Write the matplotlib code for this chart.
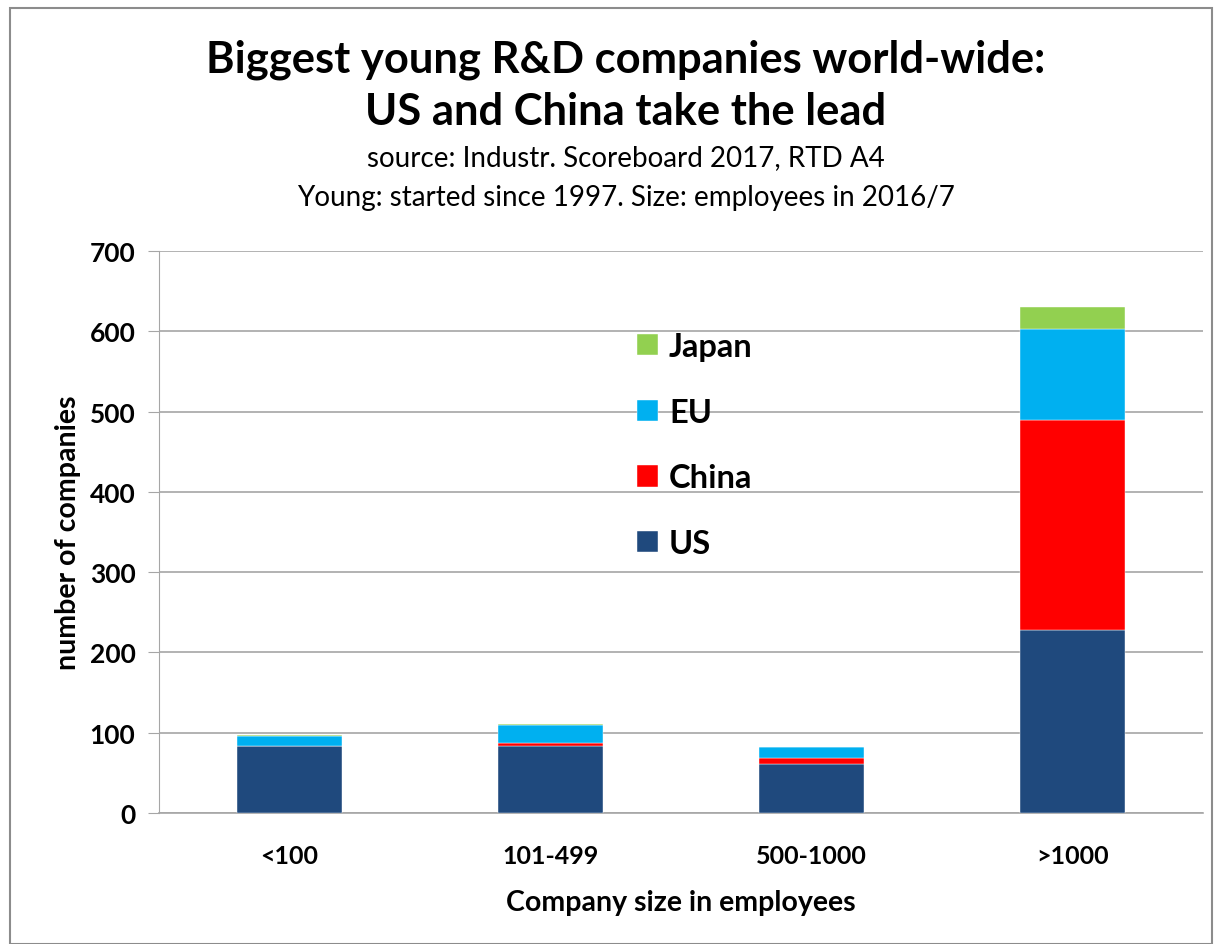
import matplotlib.pyplot as plt
from matplotlib.patches import Rectangle
import numpy as np

categories = ["<100", "101-499", "500-1000", ">1000"]
us = [83, 83, 61, 228]
china = [0, 4, 7, 261]
eu = [13, 23, 14, 114]
japan = [1, 1, 0, 27]

series = [("US", us, "#1F497D"), ("China", china, "#FF0000"),
          ("EU", eu, "#00B0F0"), ("Japan", japan, "#92D050")]

plt.rcParams["font.family"] = ["Lato", "DejaVu Sans"]

fig = plt.figure(figsize=(12.15, 9.45), dpi=100)
ax = fig.add_axes([159 / 1215, 131 / 945, 1044 / 1215, 562 / 945])

x = np.arange(len(categories))
bottom = np.zeros(len(categories))
handles = []
for name, vals, col in series:
    b = ax.bar(x, vals, 0.4, bottom=bottom, color=col, label=name,
               edgecolor="white", linewidth=0.3, zorder=3)
    handles.append(b)
    bottom += np.array(vals)

ax.set_xlim(-0.5, 3.5)
ax.set_ylim(0, 700)
ax.set_yticks(range(0, 701, 100))
ax.set_xticks(x)
ax.set_xticklabels(categories)
ax.grid(axis="y", color="#a6a6a6", linewidth=1.2, zorder=0)
for s in ["top", "right"]:
    ax.spines[s].set_visible(False)
ax.spines["left"].set_color("#a6a6a6")
ax.spines["bottom"].set_color("#a6a6a6")
ax.spines["bottom"].set_linewidth(1.2)
ax.tick_params(axis="y", length=8, color="#a6a6a6", labelsize=19, pad=9)
ax.tick_params(axis="x", length=0, labelsize=18, pad=22)
for lab in ax.get_xticklabels() + ax.get_yticklabels():
    lab.set_fontweight("bold")

ax.set_ylabel("number of companies", fontsize=20.5, fontweight="bold", labelpad=6)
ax.set_xlabel("Company size in employees", fontsize=20.5, fontweight="bold", labelpad=16)

ax.legend(handles[::-1], [s[0] for s in series][::-1],
          loc="upper left", bbox_to_anchor=(608 / 1215, (945 - 304) / 945),
          bbox_transform=fig.transFigure, frameon=False,
          prop={"size": 23.5, "weight": "bold"}, handlelength=0.62,
          handleheight=0.62, handletextpad=0.35, labelspacing=1.12)

cx = 626
fig.text(cx, 945 - 60, "Biggest young R&D companies world-wide:", fontsize=31.3,
         fontweight="bold", ha="center", va="center", transform=None)
fig.text(cx, 945 - 112, "US and China take the lead", fontsize=31.3,
         fontweight="bold", ha="center", va="center", transform=None)
fig.text(cx, 945 - 158, "source: Industr. Scoreboard 2017, RTD A4", fontsize=20,
         ha="center", va="center", transform=None)
fig.text(cx, 945 - 198, "Young: started since 1997. Size: employees in 2016/7",
         fontsize=20, ha="center", va="center", transform=None)

fig.patches.append(Rectangle((10 / 1215, 0), 1202 / 1215, 936 / 945,
                             transform=fig.transFigure, fill=False,
                             edgecolor="#8c8c8c", linewidth=1.5))

plt.savefig("out.png", dpi=100)
plt.close()
